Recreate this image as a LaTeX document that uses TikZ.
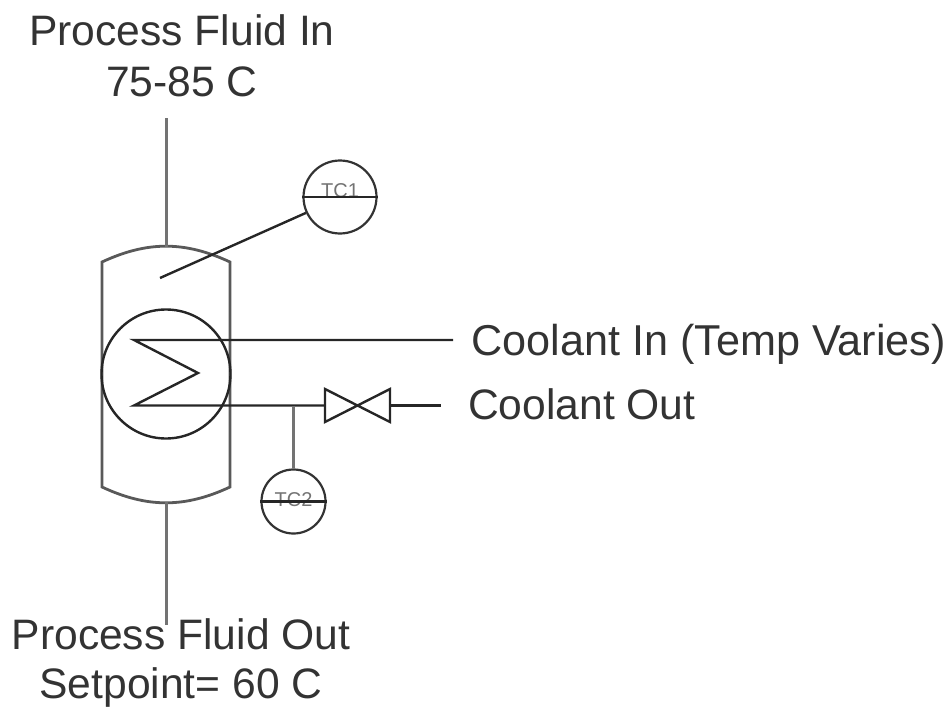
\documentclass[tikz,border=0pt]{standalone}
\usepackage{fontspec}
\setmainfont{Liberation Sans}
\usetikzlibrary{positioning}

\begin{document}
\begin{tikzpicture}[
    x=1pt, y=-1pt,
    lbl/.style={font=\fontsize{42.6}{50}\selectfont, text=black!80, inner sep=0pt},
    pipe/.style={line width=3pt, black!55},
    wire/.style={line width=2.4pt, black!85},
    shell/.style={line width=2.8pt, black!65},
    sensor/.style={circle, draw=black!80, line width=2.2pt, inner sep=0pt},
    sensortxt/.style={font=\fontsize{20}{22}\selectfont, text=black!55, inner sep=0pt}
  ]
  \useasboundingbox (0,0) rectangle (949,706);

  % Labels
  \node[lbl] (fluidin) at (182,30) {Process Fluid In};
  \node[lbl] (tempin) at (182,82) {75-85 C};
  \node[lbl, anchor=base west, font=\fontsize{43.2}{50}\selectfont] (coolin) at (471,355) {Coolant In (Temp Varies)};
  \node[lbl, anchor=base west] (coolout) at (468,419) {Coolant Out};
  \node[lbl] (fluidout) at (181,634) {Process Fluid Out};
  \node[lbl] (setpt) at (181,687) {Setpoint= 60 C};

  % Vessel
  \coordinate (vtl) at (102,262);
  \coordinate (vtr) at (230,262);
  \coordinate (vbl) at (102,487);
  \coordinate (vbr) at (230,487);
  \coordinate (vtop) at (166,247);
  \coordinate (vbot) at (166,502);
  \draw[shell] (vtl) to[bend left=25] (vtr) -- (vbr) to[bend left=25] (vbl) -- cycle;
  \node[circle, draw=black!85, line width=2.4pt, inner sep=0pt, minimum size=129pt] (coil) at (166,374) {};

  % Sensors
  \node[sensor, minimum size=73pt] (tc1) at (340,197) {};
  \node[sensortxt] (tc1txt) at (340,191) {TC1};
  \node[sensor, minimum size=64pt] (tc2) at (293.5,501.5) {};
  \node[sensortxt] (tc2txt) at (293.5,500) {TC2};
  \draw[wire] (tc1.west) -- (tc1.east);
  \draw[wire] (tc2.west) -- (tc2.east);

  % Valve
  \coordinate (vl) at (325,405.5);
  \coordinate (vm) at (357.5,405.5);
  \coordinate (vr) at (390,405.5);
  \draw[wire, line join=miter] (vm) -- (325,389) -- (325,422) -- (vm) -- (390,389) -- (390,422) -- cycle;

  % Pipes
  \coordinate (pin) at (166,118);
  \coordinate (pout) at (166,625);
  \coordinate (tc1tip) at (160,278);
  \coordinate (tap) at (293.5,405.5);
  \coordinate (cin) at (453,340);
  \coordinate (cout) at (441,405.5);
  \draw[pipe] (pin) -- (vtop);
  \draw[pipe] (vbot) -- (pout);
  \draw[wire] (tc1.205) -- (tc1tip);
  \draw[wire] (cin) -- (134,340) -- (198,373) -- (134,405.5) -- (vl);
  \draw[pipe] (tap) -- (tc2);
  \draw[wire] (vr) -- (cout);
\end{tikzpicture}
\end{document}
